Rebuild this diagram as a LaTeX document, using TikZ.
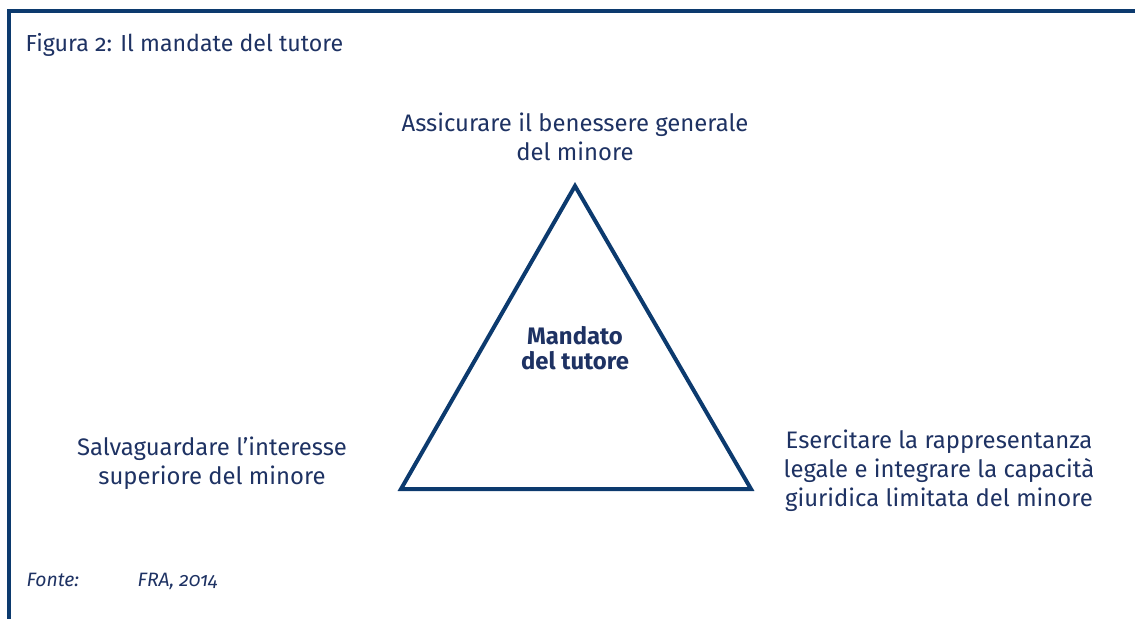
\documentclass[tikz,border=0pt]{standalone}
\usepackage{fontspec}
\setmainfont[Numbers=OldStyle]{Fira Sans}
\usepackage{tikz}
\definecolor{fraline}{HTML}{0C3A6E}
\definecolor{fratext}{HTML}{1E3263}
\tikzstyle{label} = [text=fratext, align=center, font=\fontsize{17.9}{21.6}\selectfont]
\tikzstyle{frame} = [draw=fraline, line width=2.3pt]

\begin{document}
\begin{tikzpicture}[x=0.75pt,y=-0.75pt]
    \useasboundingbox (0,0) rectangle (1135,619);

    % frame
    \coordinate (topleft) at (9,11);
    \coordinate (topright) at (1135,11);
    \coordinate (bottomleft) at (9,619);
    \draw[frame] (topright) -- (topleft) -- (bottomleft);

    \node[label,anchor=base west,font=\fontsize{17.4}{21}\selectfont] (title) at (21,51) {Figura 2: Il mandate del tutore};

    % triangle
    \coordinate (apex) at (575,186);
    \coordinate (left) at (401,489);
    \coordinate (right) at (751,489);
    \draw[draw=fraline, line width=3pt, line join=miter] (apex) -- (left) -- (right) -- cycle;

        \node[label,font=\bfseries\fontsize{17.9}{18.3}\selectfont] (mandato) at (575,348) {Mandato\\del tutore};
        \node[label] (benessere) at (575,137) {Assicurare il benessere generale\\del minore};
        \node[label] (interesse) at (212,463) {Salvaguardare l’interesse\\superiore del minore};
        \node[label] (rappresentanza) at (939,471) {Esercitare la rappresentanza\\legale e integrare la capacità\\giuridica limitata del minore};

    % source
    \node[label,anchor=base west,font=\itshape\fontsize{14.5}{17}\selectfont] (fonte) at (22,586) {Fonte:};
    \node[label,anchor=base west,font=\itshape\fontsize{14.5}{17}\selectfont] (fra) at (133,586) {FRA, 2014};

\end{tikzpicture}
\end{document}
